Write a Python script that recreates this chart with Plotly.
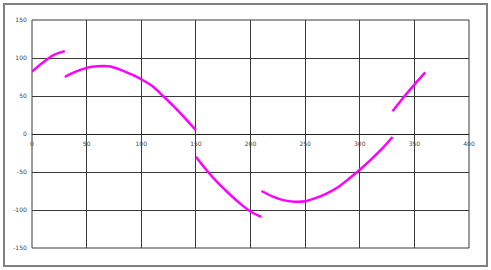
import plotly.graph_objects as go

# Segment data
x1 = [0, 10, 20, 30]
y1 = [82, 94, 104, 109]

x2 = [30, 40, 50, 60, 70, 80, 90, 100, 110, 120, 130, 140, 150]
y2 = [75, 82, 87, 89, 89, 85, 79, 72, 63, 50, 36, 21, 5]

x3 = [150, 160, 170, 180, 190, 200, 210]
y3 = [-30, -48, -64, -78, -91, -102, -109]

x4 = [210, 220, 230, 240, 250, 260, 270, 280, 290, 300, 310, 320, 330]
y4 = [-75, -82, -87, -89, -88.5, -84, -78, -70, -59, -47, -34, -20, -4]

x5 = [330, 340, 350, 360]
y5 = [30, 48, 65, 81]

x_ticks = [0, 50, 100, 150, 200, 250, 300, 350, 400]
y_ticks = [-150, -100, -50, 0, 50, 100, 150]

fig = go.Figure()
for xs, ys in [(x1, y1), (x2, y2), (x3, y3), (x4, y4), (x5, y5)]:
    fig.add_trace(go.Scatter(x=xs, y=ys, mode="lines",
                             line=dict(color="#FF00FF", width=2.5, shape="spline"),
                             showlegend=False, hoverinfo="skip"))

L, R, T, B = 32, 22, 20, 22
W, H = 491, 270
pw, ph = W - L - R, H - T - B
grid = "#3a3a3a"
tickfont = dict(family="DejaVu Sans", size=6, color="#444444")
clear = "rgba(0,0,0,0)"

fig.update_layout(
    template="none",
    width=W, height=H,
    margin=dict(l=L, r=R, t=T, b=B),
    paper_bgcolor="white", plot_bgcolor="white",
    font=dict(family="DejaVu Sans", size=6, color="#444444"),
    xaxis=dict(range=[0, 400], tickvals=x_ticks, ticktext=[str(v) for v in x_ticks],
               showgrid=True, gridcolor=grid, gridwidth=1,
               zeroline=False, showline=False, tickfont=tickfont,
               anchor="free", position=0.5,
               ticks="outside", ticklen=4, tickcolor=clear),
    yaxis=dict(range=[-150, 150], tickvals=y_ticks, ticktext=[str(v) for v in y_ticks],
               showgrid=True, gridcolor=grid, gridwidth=1,
               zeroline=True, zerolinecolor="#222222", zerolinewidth=1,
               showline=False, ticks="outside", ticklen=3, tickcolor=clear,
               tickfont=tickfont),
    shapes=[
        dict(type="rect", xref="paper", yref="paper",
             x0=(4 - L) / pw, x1=(487 - L) / pw,
             y0=(H - B - 266) / ph, y1=(H - B - 4) / ph,
             line=dict(color="#808080", width=2), fillcolor=clear,
             layer="below"),
        dict(type="rect", xref="paper", yref="paper", x0=0, x1=1, y0=0, y1=1,
             line=dict(color=grid, width=1), fillcolor=clear,
             layer="below"),
    ],
)

fig.write_html("out.html")
